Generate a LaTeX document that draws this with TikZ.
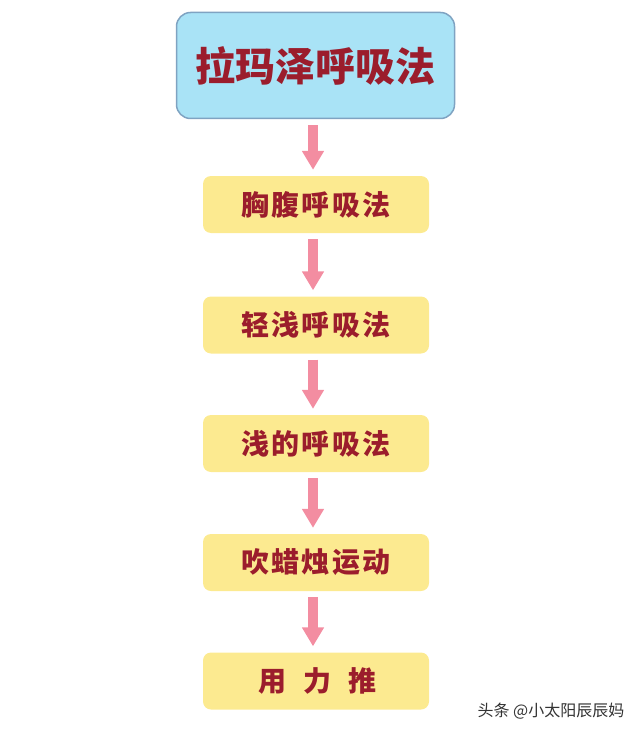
\documentclass[tikz,border=0pt]{standalone}
\usepackage{fontspec}
\newfontfamily\cjk{Noto Sans CJK SC}
\newfontfamily\cjkwide{Noto Sans CJK SC}[LetterSpace=8]
\usetikzlibrary {shapes.geometric, arrows.meta}
\definecolor{skyfill}{HTML}{A9E3F6}
\definecolor{skyline}{HTML}{7FA3C2}
\definecolor{paleyellow}{HTML}{FCEA90}
\definecolor{pinkline}{HTML}{F38DA1}
\definecolor{darkred}{HTML}{9B1D2C}
\tikzstyle {titlebox} = [draw=skyline, line width=1.5pt, fill=skyfill, rounded corners=14pt,
  minimum width=278pt, minimum height=106pt, inner sep=0pt,
  text=darkred, font=\cjk\bfseries\fontsize{40pt}{42pt}\selectfont]
\tikzstyle {stepbox} = [fill=paleyellow, rounded corners=8pt,
  minimum width=226pt, minimum height=57pt, inner sep=0pt,
  text=darkred, font=\cjkwide\bfseries\fontsize{28pt}{30pt}\selectfont]
\tikzstyle {pinkarrow} = [draw=pinkline, line width=10pt,
  -{Triangle[width=21pt, length=19pt]}, shorten <=6pt, shorten >=6pt]

\begin{document}
\begin{tikzpicture}[x=1pt, y=-1pt]
      \useasboundingbox (0,0) rectangle (640,733);
      \node [titlebox] (lamaze) at (315.5,65.5) {拉玛泽呼吸法};
      \node [stepbox] (chest) at (316,204.5) {胸腹呼吸法};
      \node [stepbox] (light) at (316,325) {轻浅呼吸法};
      \node [stepbox] (shallow) at (316,443.5) {浅的呼吸法};
      \node [stepbox] (candle) at (316,562.5) {吹蜡烛运动};
      \node [stepbox] (push) at (316,681) {\hspace{3pt}用\hspace{17pt}力\hspace{17pt}推};
      \draw [pinkarrow] (lamaze.south -| 313,0) -- (chest.north -| 313,0);
      \draw [pinkarrow] (chest.south -| 313,0) -- (light.north -| 313,0);
      \draw [pinkarrow] (light.south -| 313,0) -- (shallow.north -| 313,0);
      \draw [pinkarrow] (shallow.south -| 313,0) -- (candle.north -| 313,0);
      \draw [pinkarrow] (candle.south -| 313,0) -- (push.north -| 313,0);
      \node [text=black!80, font=\cjk\fontsize{16pt}{18pt}\selectfont] (mark) at (551,711) {头条 @小太阳辰辰妈};
    \end{tikzpicture}
\end{document}
